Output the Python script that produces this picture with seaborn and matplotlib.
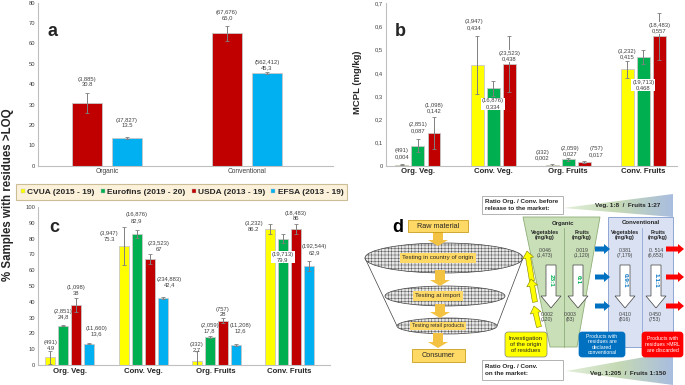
import numpy as np
import pandas as pd
import matplotlib
matplotlib.use('Agg')
import matplotlib.pyplot as plt
import matplotlib.patches as mpatches
from matplotlib.lines import Line2D
from matplotlib.colors import LinearSegmentedColormap
import seaborn as sns

sns.set_style('white')
plt.rcParams['font.family'] = ['Liberation Sans', 'DejaVu Sans']
plt.rcParams['hatch.linewidth'] = 0.3

# sources / colours shared by a, b, c
sources = ['CVUA (2015 - 19)', 'Eurofins (2019 - 20)', 'USDA (2013 - 19)', 'EFSA (2013 - 19)']
colors = ['#FFFF00', '#00B050', '#C00000', '#00B0F0']
groups = ['Org. Veg.', 'Conv. Veg.', 'Org. Fruits', 'Conv. Fruits']

# panel a: % samples >LOQ, organic vs conventional (USDA, EFSA)
a_groups = ['Organic', 'Conventional']
a_vals = [[30.8, 65.0], [13.5, 45.3]]
a_errs = [[4.8, 3.8], [0.5, 0.5]]
a_n = [['3,885', '67,676'], ['37,827', '562,412']]
a_txt = [['30.8', '65,0'], ['13.5', '45,3']]

# panel b: MCPL (mg/kg) (CVUA, Eurofins, USDA)
b_vals = [[0.004, 0.434, 0.002, 0.415], [0.087, 0.334, 0.027, 0.468], [0.142, 0.438, 0.017, 0.557]]
b_errs = [[0.003, 0.123, 0.006, 0.035], [0.03, 0.032, 0.008, 0.03], [0.07, 0.12, 0.005, 0.101]]
b_n = [['491', '3,947', '332', '3,232'], ['2,851', '16,876', '2,059', '19,713'], ['1,098', '23,523', '757', '18,483']]
b_txt = [['0,004', '0,434', '0,002', '0,415'], ['0,087', '0,334', '0,027', '0,468'], ['0,142', '0,438', '0,017', '0,557']]

# panel c: % samples >LOQ by category
c_vals = [[4.9, 75.3, 2.7, 86.2], [24.8, 82.9, 17.8, 79.9], [38, 67, 28, 86], [13.6, 42.4, 12.6, 62.9]]
c_errs = [[4.0, 12.3, 6.3, 3.0], [0.4, 2.6, 0.5, 3.0], [4.5, 3.0, 1.5, 3.2], [0.6, 0.8, 0.6, 3.2]]
c_n = [['491', '3,947', '332', '3,232'], ['2,851', '16,876', '2,059', '19,713'],
       ['1,098', '23,523', '757', '18,483'], ['11,660', '234,883', '11,208', '192,544']]
c_txt = [['4.9', '75.3', '2,7', '86.2'], ['24,8', '82,9', '17,8', '79,9'],
         ['38', '67', '28', '86'], ['13,6', '42,4', '12,6', '62,9']]

# panel d numbers
d_org_top = ['0.046\n(1,473)', '0.019\n(1,120)']
d_org_bot = ['0.002\n(120)', '0.003\n(83)']
d_conv_top = ['0.381\n(7,179)', '0. 514\n(6,653)']
d_conv_bot = ['0.410\n(816)', '0.450\n(753)']
d_org_ratio = ['23:1', '6:1']
d_conv_ratio = ['0.9:1', '1.1:1']
d_ratio_before = 'Veg. 1:8  /  Fruits 1:27'
d_ratio_market = 'Veg. 1:205  /  Fruits 1:150'

# label tweaks in pixels: (group, source) -> (dx, dy, boxed)
a_tw = {(0, 0): (0, 6, False), (0, 1): (0, 9, False), (1, 0): (0, 5, False), (1, 1): (0, 2, False)}
b_tw = {(0, 0): (0, 5, False), (0, 1): (0, 5.5, False), (0, 2): (0, 3, False),
        (1, 0): (-3, 6.5, False), (1, 1): (0, -23, True), (1, 2): (0, -20, True),
        (2, 0): (-10, 3.5, False), (2, 1): (2, 1, False), (2, 2): (12, 3.5, False),
        (3, 0): (0, 2, False), (3, 1): (0, -35, True), (3, 2): (0, -15, True)}
c_tw = {(0, 0): (0, 0, False), (0, 1): (0, 6, False), (0, 2): (0, 2, False), (0, 3): (7, 6, False),
        (1, 0): (-14.5, -15, False), (1, 1): (0, 7, False), (1, 2): (9, 2.7, False), (1, 3): (7, 9, False),
        (2, 0): (0, -2, False), (2, 1): (0, 2.7, False), (2, 2): (0, 1, False), (2, 3): (5, 10.7, False),
        (3, 0): (-16, -7.6, False), (3, 1): (0, -23, True), (3, 2): (0, 2.7, False), (3, 3): (6, 5.7, False)}


def long_df(cats, srcs, vals, errs, ns, txts):
    rows = []
    for s, src in enumerate(srcs):
        for g, cat in enumerate(cats):
            rows.append(dict(group=cat, source=src, value=vals[s][g], err=errs[s][g],
                             n=ns[s][g], txt=txts[s][g]))
    return pd.DataFrame(rows)


def bar_panel(ax, df, cats, srcs, pal, width, gap, tweaks):
    sns.barplot(data=df, x='group', y='value', hue='source', order=cats, hue_order=srcs,
                palette=pal, saturation=1, width=width, gap=gap, errorbar=None, edgecolor='#C8C8C8',
                linewidth=0.6, legend=False, ax=ax)
    conts = list(ax.containers)
    for s, cont in enumerate(conts):
        sub = df[df.source == srcs[s]].set_index('group').loc[cats]
        for g, bar in enumerate(cont):
            row = sub.iloc[g]
            x = bar.get_x() + bar.get_width() / 2
            top = bar.get_height()
            ax.errorbar(x, top, yerr=row.err, color='#808080', lw=0.7, capsize=1.5, capthick=0.6, zorder=3)
            dx, dy, boxed = tweaks.get((g, s), (0, 3, False))
            bb = dict(boxstyle='square,pad=0.15', fc='white', ec='none') if boxed else None
            ax.annotate(f"({row.n})\n{row.txt}", xy=(x, top + row.err), xytext=(dx * 0.72, dy * 0.72),
                        textcoords='offset points', ha='center', va='center' if boxed else 'bottom',
                        fontsize=4.2, color='#404040', linespacing=1.15, bbox=bb, zorder=4)


def style_axes(ax, bold_x):
    sns.despine(ax=ax)
    for sp in ['left', 'bottom']:
        ax.spines[sp].set_color('#BFBFBF')
        ax.spines[sp].set_linewidth(0.8)
    ax.tick_params(length=0, pad=2)
    ax.tick_params(axis='y', labelsize=4.2, labelcolor='#404040')
    ax.tick_params(axis='x', labelsize=5.6 if bold_x else 4.8, labelcolor='#262626' if bold_x else '#404040')
    if bold_x:
        for t in ax.get_xticklabels():
            t.set_fontweight('bold')
    ax.set_xlabel('')
    ax.set_ylabel('')


W, H = 685, 385
fig = plt.figure(figsize=(6.85, 3.85), dpi=100)


def px_axes(x0, y0, x1, y1, **kw):
    return fig.add_axes([x0 / W, 1 - y1 / H, (x1 - x0) / W, (y1 - y0) / H], **kw)


# ---------- panel d (diagram) ----------
ad = px_axes(0, 0, W, H)
ad.axis('off')

gold = '#FFD966'
gold_edge = '#BF9000'
arrow_gold = '#F4C242'

# funnel sides
ad.plot([365, 397], [258, 326], color='#404040', lw=0.5, zorder=1)
ad.plot([523, 497], [258, 326], color='#404040', lw=0.5, zorder=1)
for cx, cy, w, h in [(444, 258, 158, 30), (445, 296, 120, 20), (447, 326, 100, 16)]:
    ad.add_patch(mpatches.Ellipse((cx, cy), w, h, fc='#E6E6E6', ec='#404040', hatch='+++++', lw=0.5, zorder=2))
for x0, y0, x1, y1 in [(438, 232, 438, 246), (440, 270, 440, 286), (440, 304, 440, 318), (438, 333, 438, 348)]:
    ad.add_patch(mpatches.FancyArrow(x0, y0, x1 - x0, y1 - y0, width=10, head_width=20, head_length=6,
                                     length_includes_head=True, fc=arrow_gold, ec='none', zorder=3))
for txt, x0, y0, x1, y1 in [('Raw material', 408, 220, 468, 232), ('Consumer', 412, 349, 465, 362)]:
    ad.add_patch(mpatches.Rectangle((x0, y0), x1 - x0, y1 - y0, fc=gold, ec=gold_edge, lw=0.5, zorder=4))
    ad.text((x0 + x1) / 2, (y0 + y1) / 2, txt, ha='center', va='center', fontsize=5.2, color='#262626', zorder=5)
for txt, cx, cy, fs in [('Testing in country of origin', 438, 258, 4.4), ('Testing at import', 438, 296, 4.4),
                        ('Testing retail products', 438, 326, 3.8)]:
    ad.text(cx, cy, txt, ha='center', va='center', fontsize=fs, color='#262626', zorder=5,
            bbox=dict(boxstyle='square,pad=0.35', fc=gold, ec='none'))
ad.text(398, 227, 'd', ha='center', va='center', fontsize=13, fontweight='bold', color='black')

# gradient wedges
cmap = LinearSegmentedColormap.from_list('gb', ['#E2EFDA', '#C5D9B5', '#A9BDE0'])
grad = np.linspace(0, 1, 256).reshape(1, -1)
for pts, txt, ty in [([(563, 208), (673, 194), (673, 217)], d_ratio_before, 206),
                     ([(566, 371), (673, 352), (673, 385)], d_ratio_market, 373)]:
    xs = [p[0] for p in pts]
    ys = [p[1] for p in pts]
    im = ad.imshow(grad, cmap=cmap, extent=(min(xs), max(xs), max(ys), min(ys)), aspect='auto', zorder=1)
    poly = mpatches.Polygon(pts, closed=True, fc='none', ec='none')
    ad.add_patch(poly)
    im.set_clip_path(poly)
    ad.text(628, ty, txt, ha='center', va='center', fontsize=4.6, fontweight='bold', color='#262626', zorder=3)

for x0, y0, x1, y1, txt in [(482, 196, 563, 214, 'Ratio Org. / Conv. before\nrelease to the market:'),
                            (482, 360, 563, 380, 'Ratio Org. / Conv.\non the market:')]:
    ad.add_patch(mpatches.Rectangle((x0, y0), x1 - x0, y1 - y0, fc='white', ec='#A6A6A6', lw=0.6, zorder=2))
    ad.text(x0 + 3, (y0 + y1) / 2, txt, ha='left', va='center', fontsize=4.5, fontweight='bold',
            color='#262626', linespacing=1.3, zorder=3)

# organic trapezoid and conventional box
ad.add_patch(mpatches.Polygon([(523, 217), (600, 217), (577, 347), (550, 347)], closed=True,
                              fc='#C9DFB8', ec='#8EAD77', lw=0.6, zorder=1))
ad.plot([564, 564], [228, 347], color='#8EAD77', lw=0.6, zorder=2)
ad.add_patch(mpatches.Rectangle((608, 217), 65, 130, fc='#D9E1F2', ec='#8FA6D6', lw=0.7, zorder=1))
ad.plot([642, 642], [228, 347], color='#8FA6D6', lw=0.6, zorder=2)

ad.text(563, 223, 'Organic', ha='center', va='center', fontsize=4.3, fontweight='bold', color='#262626')
ad.text(641, 223, 'Conventional', ha='center', va='center', fontsize=4.3, fontweight='bold', color='#262626')
for cx in [545, 625]:
    ad.text(cx, 235, 'Vegetables\n(mg/kg)', ha='center', va='center', fontsize=3.9, fontweight='bold',
            color='#262626', linespacing=1.1)
for cx in [582, 658]:
    ad.text(cx, 235, 'Fruits\n(mg/kg)', ha='center', va='center', fontsize=3.9, fontweight='bold',
            color='#262626', linespacing=1.1)
for cx, t in zip([545, 582], d_org_top):
    ad.text(cx, 253, t, ha='center', va='center', fontsize=3.7, color='#404040', linespacing=1.1)
for cx, t in zip([547, 570], d_org_bot):
    ad.text(cx, 317, t, ha='center', va='center', fontsize=3.7, color='#404040', linespacing=1.1)
for cx, t in zip([625, 656], d_conv_top):
    ad.text(cx, 253, t, ha='center', va='center', fontsize=3.7, color='#404040', linespacing=1.1)
for cx, t in zip([625, 655], d_conv_bot):
    ad.text(cx, 317, t, ha='center', va='center', fontsize=3.7, color='#404040', linespacing=1.1)

# white down arrows with ratios
for cx, t, col in [(551, d_org_ratio[0], '#00B050'), (578, d_org_ratio[1], '#00B050'),
                   (625, d_conv_ratio[0], '#0070C0'), (656, d_conv_ratio[1], '#0070C0')]:
    ad.add_patch(mpatches.FancyArrow(cx, 265, 0, 43, width=10, head_width=20, head_length=12,
                                     length_includes_head=True, fc='white', ec='#404040', lw=0.5, zorder=3))
    ad.text(cx, 280, t, ha='center', va='center', rotation=270, fontsize=4.6, fontweight='bold',
            color=col, zorder=4)

# side arrows
for y in [249, 277, 306]:
    ad.add_patch(mpatches.FancyArrow(595, y, 15, 0, width=5, head_width=10, head_length=6,
                                     length_includes_head=True, fc='#0070C0', ec='none', zorder=3))
    ad.add_patch(mpatches.FancyArrow(666, y, 18, 0, width=5, head_width=10, head_length=6,
                                     length_includes_head=True, fc='#FF0000', ec='none', zorder=3))
for (x0, y0), (x1, y1) in [((532, 281), (527, 251)), ((535, 302), (531, 279)), ((539, 327), (534, 306))]:
    ad.add_patch(mpatches.FancyArrow(x0, y0, x1 - x0, y1 - y0, width=5, head_width=11, head_length=7,
                                     length_includes_head=True, fc='#FFFF00', ec='#7F7F00', lw=0.4, zorder=3))

for x0, y0, x1, y1, fc, tc, txt, fs in [
        (505, 332, 547, 357, '#FFFF00', '#262626', 'Investigation\nof the origin\nof residues', 4.3),
        (579, 332, 625, 357, '#0070C0', 'white', 'Products with\nresidues are\ndeclared\nconventional', 3.7),
        (642, 332, 683, 357, '#FF0000', 'white', 'Products with\nresidues >MRL\nare discarded', 3.7)]:
    ad.add_patch(mpatches.FancyBboxPatch((x0, y0), x1 - x0, y1 - y0, boxstyle='round,pad=0,rounding_size=3',
                                         fc=fc, ec='#7F7F7F' if tc != 'white' else fc, lw=0.5, zorder=4))
    ad.text((x0 + x1) / 2, (y0 + y1) / 2, txt, ha='center', va='center', fontsize=fs, color=tc,
            linespacing=1.15, zorder=5)

ad.set_xlim(0, W)
ad.set_ylim(H, 0)

# ---------- panel a ----------
ax_a = px_axes(38, 2.7, 333, 165.7)
df_a = long_df(a_groups, sources[2:], a_vals, a_errs, a_n, a_txt)
bar_panel(ax_a, df_a, a_groups, sources[2:], colors[2:], 0.571, 0.227, a_tw)
ax_a.set_ylim(0, 80)
ax_a.set_yticks(range(0, 81, 10))
ax_a.set_xlim(-0.493, 1.614)
style_axes(ax_a, False)
fig.text(53 / W, 1 - 31 / H, 'a', ha='center', va='center', fontsize=13, fontweight='bold')

# ---------- panel b ----------
ax_b = px_axes(385.7, 3.3, 677, 165.7)
df_b = long_df(groups, sources[:3], b_vals, b_errs, b_n, b_txt)
bar_panel(ax_b, df_b, groups, sources[:3], colors[:3], 0.64, 0.19, b_tw)
ax_b.set_ylim(0, 0.7)
b_ticks = np.round(np.arange(0, 0.71, 0.1), 1)
ax_b.set_yticks(b_ticks)
ax_b.set_yticklabels(['0'] + [f'{t:.1f}'.replace('.', ',') for t in b_ticks[1:]])
ax_b.set_xlim(-0.43, 3.45)
style_axes(ax_b, True)
fig.text(400 / W, 1 - 31 / H, 'b', ha='center', va='center', fontsize=13, fontweight='bold')
fig.text(357 / W, 1 - 82 / H, 'MCPL (mg/kg)', ha='center', va='center', rotation=90, fontsize=6.8,
         fontweight='bold', color='#262626')

# ---------- panel c ----------
ax_c = px_axes(38, 207, 330, 365)
df_c = long_df(groups, sources, c_vals, c_errs, c_n, c_txt)
bar_panel(ax_c, df_c, groups, sources, colors, 0.712, 0.23, c_tw)
ax_c.set_ylim(0, 100)
ax_c.set_yticks(range(0, 101, 10))
ax_c.set_xlim(-0.438, 3.56)
style_axes(ax_c, True)
fig.text(54 / W, 1 - 228 / H, 'c', ha='center', va='center', fontsize=13, fontweight='bold')

# shared y label and legend
fig.text(8 / W, 1 - 195 / H, '% Samples with residues >LOQ', ha='center', va='center', rotation=90,
         fontsize=8.3, fontweight='bold', color='#262626')
handles = [Line2D([], [], marker='s', ls='', color=c, markersize=3.5, markeredgecolor='#BFBFBF',
                  markeredgewidth=0.3) for c in colors]
leg = fig.legend(handles, sources, loc='center', bbox_to_anchor=(181.5 / W, 1 - 192 / H), ncol=4,
                 frameon=True, fancybox=False, facecolor='#FCEFD2', edgecolor='#BFAF80',
                 prop=dict(weight='bold', size=6.0), handletextpad=0.1, columnspacing=0.6,
                 borderpad=0.45, handlelength=0.8)
leg.get_frame().set_linewidth(0.8)

fig.savefig('out.png', dpi=100)
